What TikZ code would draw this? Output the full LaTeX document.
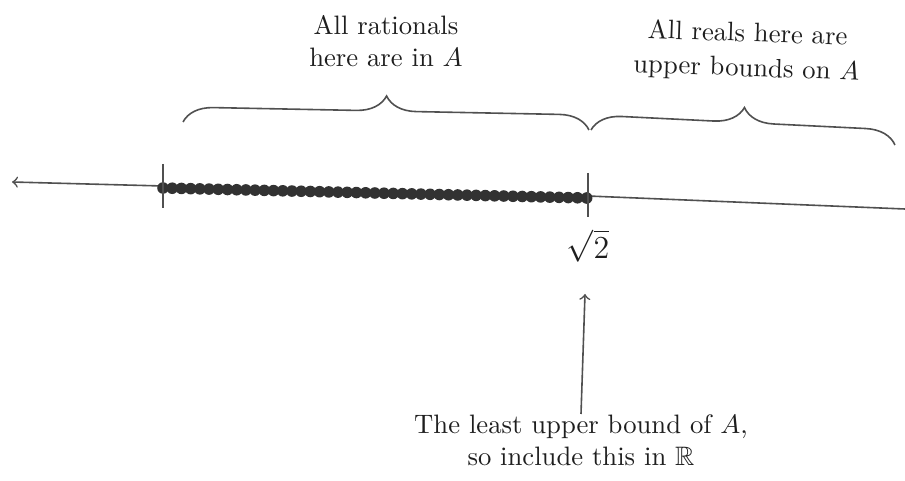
\documentclass[tikz,border=0pt]{standalone}
\usepackage{amssymb}
\usetikzlibrary{decorations.pathreplacing}
\definecolor{ink}{RGB}{80,80,80}
\definecolor{txt}{RGB}{30,30,30}
\definecolor{dotc}{RGB}{50,50,50}
\tikzset{
  numline/.style={draw=ink, line width=0.6pt},
  tickmark/.style={draw=ink, line width=0.6pt},
  bracemark/.style={draw=ink, line width=0.6pt, decorate,
     decoration={brace, amplitude=11.25pt}},
  txtnode/.style={text=txt, inner sep=0pt, align=center, font={\fontsize{10}{12}\selectfont}},
}
\begin{document}
\begin{tikzpicture}[x=0.375pt, y=-0.375pt]
\useasboundingbox (0,0) rectangle (905,481);
% number line
\coordinate (L) at (12,182);
\coordinate (a) at (163,186);
\coordinate (s) at (588,196);
\coordinate (R) at (905,209);
\draw[numline,->] (a) -- (L);
\draw[numline] (a) -- (s) -- (R);
% dots
\foreach \i in {0,...,46}{
  \fill[dotc] ({163+\i*9.21},{188+\i*10/46}) circle[radius=5.8];
}
% ticks
\coordinate (at) at (163,164); \coordinate (ab) at (163,208);
\coordinate (st) at (588,173); \coordinate (sb) at (588,217);
\draw[tickmark] (at) -- (ab);
\draw[tickmark] (st) -- (sb);
% sqrt 2
\node[txtnode, font=\large] (sq) at (588,246) {$\sqrt{2}$};
% braces
\coordinate (b1) at (183,122); \coordinate (b2) at (589,130);
\coordinate (c1) at (591,130); \coordinate (c2) at (895,145);
\draw[bracemark] (b1) -- (b2);
\draw[bracemark] (c1) -- (c2);
% texts
\node[txtnode, anchor=north] (rat) at (386,14.5) {All rationals\\ here are in $A$};
\node[txtnode, rotate=-2] (reals) at (747,52) {All reals here are\\[1pt] upper bounds on $A$};
\node[txtnode, anchor=north] (lub) at (581,414) {The least upper bound of $A$,\\ so include this in $\mathbb{R}$};
\coordinate (arrtop) at (585,294);
\draw[numline,->] (lub.north) -- (arrtop);
\end{tikzpicture}
\end{document}
